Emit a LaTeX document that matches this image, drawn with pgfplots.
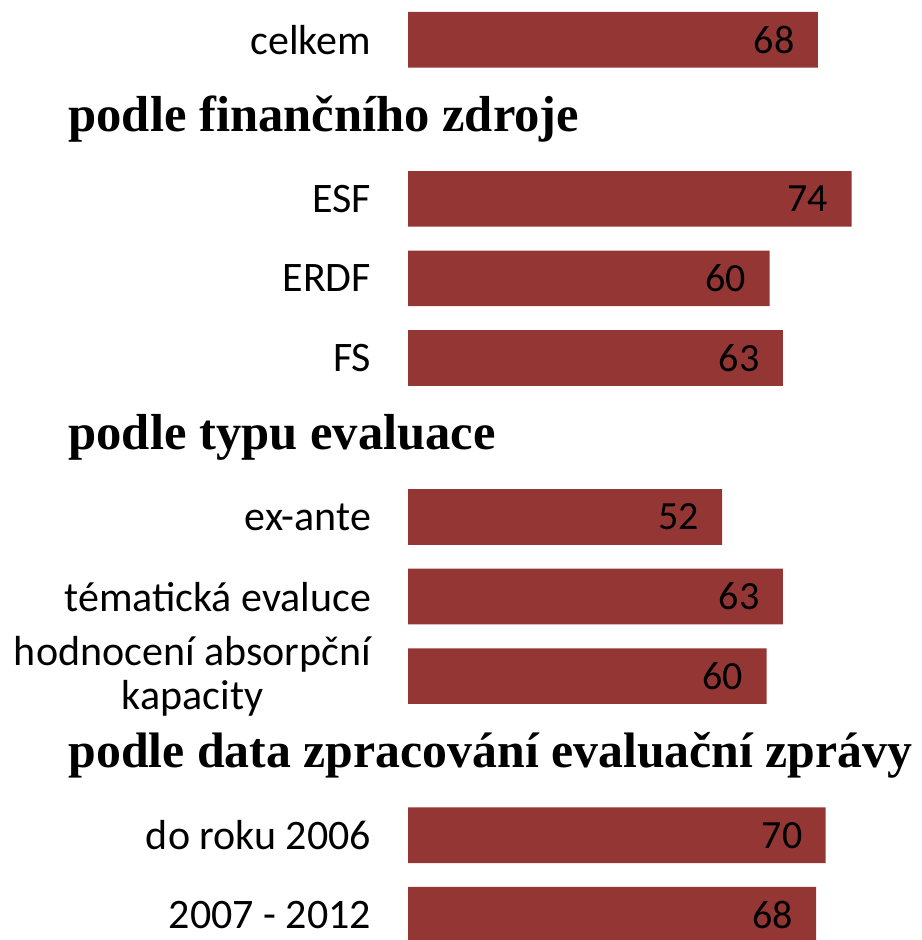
\documentclass[border=0pt]{standalone}
\usepackage{fontspec}
\setmainfont{Carlito}
\newfontfamily\hdr{Liberation Serif}
\usepackage{pgfplots}
\pgfplotsset{compat=1.18}
\definecolor{barred}{HTML}{943634}
\begin{document}
\begin{tikzpicture}[x=1pt,y=1pt]
\useasboundingbox (0,0) rectangle (460.5,470);
\begin{axis}[
  at={(204pt,470pt)}, anchor=north west,
  scale only axis, width=223pt, height=470.1pt,
  xmin=0, xmax=74, ymin=-0.5, ymax=11.32,
  y dir=reverse,
  hide x axis,
  axis y line*=left,
  y axis line style={draw=none},
  ytick style={draw=none},
  ytick={0,2,3,4,6,7,8,10,11},
  yticklabels={celkem, ESF, ERDF, FS, ex-ante, tématická evaluce, {hodnocení absorpční\\kapacity}, do roku 2006, 2007 - 2012},
  yticklabel style={align=center, anchor=east, inner sep=0pt, xshift=-14pt, font=\fontsize{21}{22}\selectfont},
  clip=false,
  xbar, bar width=0.7,
  point meta=explicit symbolic,
  nodes near coords,
  every node near coord/.append style={anchor=east, inner sep=0pt, xshift=-11.5pt, font=\fontsize{20}{22}\selectfont, text=black},
]
\addplot[fill=barred, draw=none] coordinates {
 (68.0,0) [68]
 (73.6,2) [74]
 (60.0,3) [60]
 (62.2,4) [63]
 (52.1,6) [52]
 (62.2,7) [63]
 (59.5,8) [60]
 (69.3,10) [70]
 (67.7,11) [68]
};
\node[anchor=west, inner sep=0pt, font=\hdr\bfseries\fontsize{25.3}{27}\selectfont] at (axis cs:-56.4,1) {podle finančního zdroje};
\node[anchor=west, inner sep=0pt, font=\hdr\bfseries\fontsize{25.3}{27}\selectfont] at (axis cs:-56.4,5) {podle typu evaluace};
\node[anchor=west, inner sep=0pt, font=\hdr\bfseries\fontsize{25.3}{27}\selectfont] at (axis cs:-56.4,9) {\resizebox{422pt}{!}{podle data zpracování evaluační zprávy}};
\end{axis}
\end{tikzpicture}
\end{document}
